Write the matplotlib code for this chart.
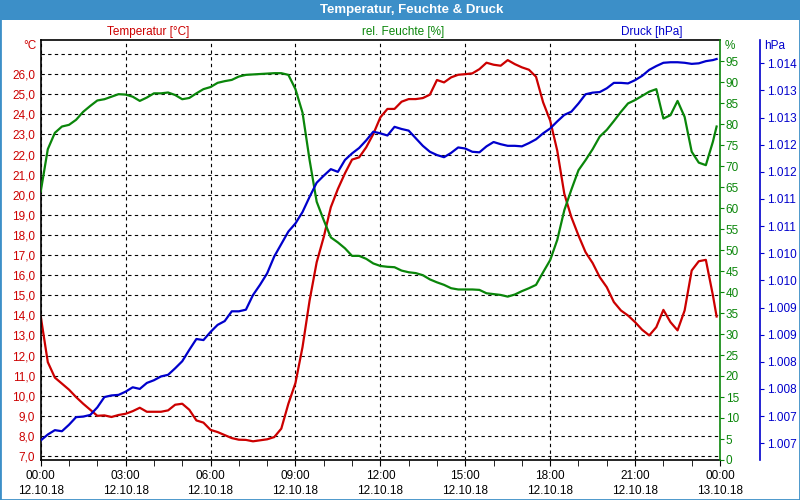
import numpy as np
import matplotlib.pyplot as plt
from matplotlib.patches import Rectangle
from matplotlib.ticker import MultipleLocator

plt.rcParams['font.family'] = ['Liberation Sans', 'DejaVu Sans']

# Messwerte alle 15 Minuten (Stunden seit 12.10.18 00:00)
times = np.append(np.arange(0, 24, 0.25), 23.88)

temperatur = [
    13.95, 11.67, 10.9, 10.6, 10.3, 9.93, 9.6, 9.3, 9.0, 9.02, 8.94, 9.04, 9.1,
    9.23, 9.4, 9.2, 9.2, 9.2, 9.27, 9.55, 9.6, 9.3, 8.77, 8.66, 8.3,
    8.19, 8.04, 7.89, 7.81, 7.80, 7.73, 7.78, 7.83, 7.94, 8.36, 9.6, 10.63,
    12.42, 14.74, 16.64, 17.9, 19.38, 20.29, 21.07, 21.75, 21.86, 22.36, 23.02, 23.85,
    24.27, 24.27, 24.63, 24.76, 24.76, 24.81, 24.98, 25.71, 25.59, 25.84, 25.97, 26.0,
    26.04, 26.25, 26.57, 26.47, 26.42, 26.70, 26.50, 26.34, 26.22, 25.87, 24.6, 23.69,
    22.19, 20.04, 18.88, 17.97, 17.14, 16.6, 15.9, 15.4, 14.66, 14.24, 13.99, 13.66,
    13.28, 13.0, 13.41, 14.27, 13.66, 13.25, 14.24, 16.23, 16.69, 16.76, 14.99, 13.94,
]

feuchte = [
    63.9, 74.0, 77.9, 79.4, 79.8, 81.0, 82.9, 84.3, 85.6, 85.9, 86.5, 87.1, 87.0,
    86.5, 85.5, 86.3, 87.3, 87.3, 87.5, 86.9, 85.9, 86.2, 87.3, 88.3, 88.8,
    89.8, 90.2, 90.5, 91.3, 91.7, 91.8, 91.9, 92.0, 92.1, 92.1, 91.7, 88.3,
    82.7, 71.4, 61.5, 57.1, 53.0, 51.8, 50.4, 48.6, 48.6, 47.9, 46.8, 46.2,
    46.0, 45.9, 45.1, 44.7, 44.5, 44.0, 43.0, 42.3, 41.7, 40.9, 40.6, 40.6,
    40.6, 40.5, 39.7, 39.5, 39.3, 38.9, 39.4, 40.2, 40.9, 41.7, 44.7, 47.6,
    52.4, 59.5, 64.4, 69.0, 71.4, 74.0, 77.0, 78.6, 80.7, 82.9, 84.9, 85.7,
    86.7, 87.7, 88.3, 81.3, 82.1, 85.5, 81.7, 73.4, 70.8, 70.2, 75.8, 79.4,
]

druck = [
    1007.05, 1007.16, 1007.24, 1007.22, 1007.34, 1007.48, 1007.49, 1007.52, 1007.66,
    1007.85, 1007.88, 1007.89, 1007.95, 1008.03, 1008.00, 1008.11, 1008.16, 1008.23,
    1008.26, 1008.38, 1008.51, 1008.72, 1008.92, 1008.90, 1009.05,
    1009.18, 1009.25, 1009.43, 1009.43, 1009.46, 1009.73, 1009.92, 1010.13, 1010.44,
    1010.67, 1010.90, 1011.05, 1011.26, 1011.54, 1011.80, 1011.93, 1012.05, 1012.00,
    1012.22, 1012.34, 1012.44, 1012.58, 1012.74, 1012.71,
    1012.67, 1012.83, 1012.79, 1012.76, 1012.62, 1012.48, 1012.37, 1012.31, 1012.27,
    1012.35, 1012.45, 1012.43, 1012.37, 1012.36, 1012.47, 1012.55, 1012.51, 1012.48,
    1012.48, 1012.47, 1012.53, 1012.60, 1012.71, 1012.80,
    1012.93, 1013.05, 1013.11, 1013.26, 1013.43, 1013.46, 1013.47, 1013.54, 1013.64,
    1013.64, 1013.63, 1013.69, 1013.77, 1013.88, 1013.95, 1014.01, 1014.02, 1014.02,
    1014.01, 1013.99, 1014.00, 1014.04, 1014.06, 1014.08,
]

x_ticks = [0, 3, 6, 9, 12, 15, 18, 21, 24]
x_labels = ['00:00\n12.10.18', '03:00\n12.10.18', '06:00\n12.10.18',
            '09:00\n12.10.18', '12:00\n12.10.18', '15:00\n12.10.18',
            '18:00\n12.10.18', '21:00\n12.10.18', '00:00\n13.10.18']
temp_ticks = list(range(7, 28))
temp_labels = [f'{v},0' for v in range(7, 27)] + ['']
feuchte_ticks = list(range(0, 100, 5))
druck_ticks = [1007 + 0.5 * i for i in range(15)]
druck_labels = ['1.007', '1.007', '1.008', '1.008', '1.009', '1.009', '1.010', '1.010',
                '1.011', '1.011', '1.012', '1.012', '1.013', '1.013', '1.014']

ROT = '#cc0000'
GRUEN = '#0a860a'
BLAU = '#0000cc'
RAHMEN = '#3c8fc8'

fig = plt.figure(figsize=(8, 5), dpi=100)
fig.patch.set_facecolor('white')

# Titelleiste und Rahmen
fig.patches.append(Rectangle((0, 0.96), 1, 0.04, transform=fig.transFigure,
                             facecolor=RAHMEN, edgecolor='none', zorder=0))
fig.patches.append(Rectangle((0, 0), 1, 1, transform=fig.transFigure,
                             fill=False, edgecolor=RAHMEN, linewidth=2, zorder=5))
fig.text(0.515, 0.98, 'Temperatur, Feuchte & Druck', color='white',
         fontsize=9.5, fontweight='bold', ha='center', va='center')

ax = fig.add_axes([0.0509, 0.08, 0.8491, 0.84])
ax.plot(times, temperatur, color=ROT, linewidth=1.6)
ax.set_xlim(0, 24)
ax.set_ylim(6.8, 27.7)
ax.set_xticks(x_ticks)
ax.set_xticklabels(x_labels)
for lbl in ax.get_xticklabels():
    lbl.set_linespacing(1.35)
ax.xaxis.set_minor_locator(MultipleLocator(1))
ax.tick_params(axis='x', which='both', length=4, pad=3, labelsize=8.5, colors='black')
ax.set_yticks(temp_ticks)
ax.set_yticklabels(temp_labels)
ax.tick_params(axis='y', length=0, pad=4, labelsize=8.5, labelcolor=ROT)
ax.grid(True, which='major', color='black', linestyle=(0, (3, 3)), linewidth=0.8)
ax.spines['right'].set_visible(False)
for s in ['left', 'top', 'bottom']:
    ax.spines[s].set_linewidth(1.2)

# Feuchte
ax2 = ax.twinx()
ax2.plot(times, feuchte, color=GRUEN, linewidth=1.6)
ax2.set_ylim(0, 100)
ax2.set_yticks(feuchte_ticks)
ax2.tick_params(axis='y', length=3, pad=1, labelsize=8.5, color=GRUEN, labelcolor=GRUEN)
for s in ['left', 'top', 'bottom']:
    ax2.spines[s].set_visible(False)
ax2.spines['right'].set_color(GRUEN)
ax2.spines['right'].set_linewidth(1.2)

# Druck
ax3 = ax.twinx()
ax3.plot(times, druck, color=BLAU, linewidth=1.6)
ax3.set_ylim(1006.69, 1014.43)
ax3.set_yticks(druck_ticks)
ax3.set_yticklabels(druck_labels)
ax3.spines['right'].set_position(('axes', 1.0589))
for s in ['left', 'top', 'bottom']:
    ax3.spines[s].set_visible(False)
ax3.spines['right'].set_color(BLAU)
ax3.spines['right'].set_linewidth(1.2)
ax3.tick_params(axis='y', length=3, pad=2, labelsize=8.5, color=BLAU, labelcolor=BLAU)

# Achsenbeschriftungen
fig.text(148 / 800, 1 - 32 / 500, 'Temperatur [°C]', color=ROT, fontsize=8.5, ha='center', va='center')
fig.text(403 / 800, 1 - 32 / 500, 'rel. Feuchte [%]', color=GRUEN, fontsize=8.5, ha='center', va='center')
fig.text(652 / 800, 1 - 32 / 500, 'Druck [hPa]', color=BLAU, fontsize=8.5, ha='center', va='center')
fig.text(37 / 800, 1 - 46 / 500, '°C', color=ROT, fontsize=8.5, ha='right', va='center')
fig.text(725 / 800, 1 - 46 / 500, '%', color=GRUEN, fontsize=8.5, ha='left', va='center')
fig.text(764 / 800, 1 - 46 / 500, 'hPa', color=BLAU, fontsize=8.5, ha='left', va='center')

fig.savefig('out.png', dpi=100)
